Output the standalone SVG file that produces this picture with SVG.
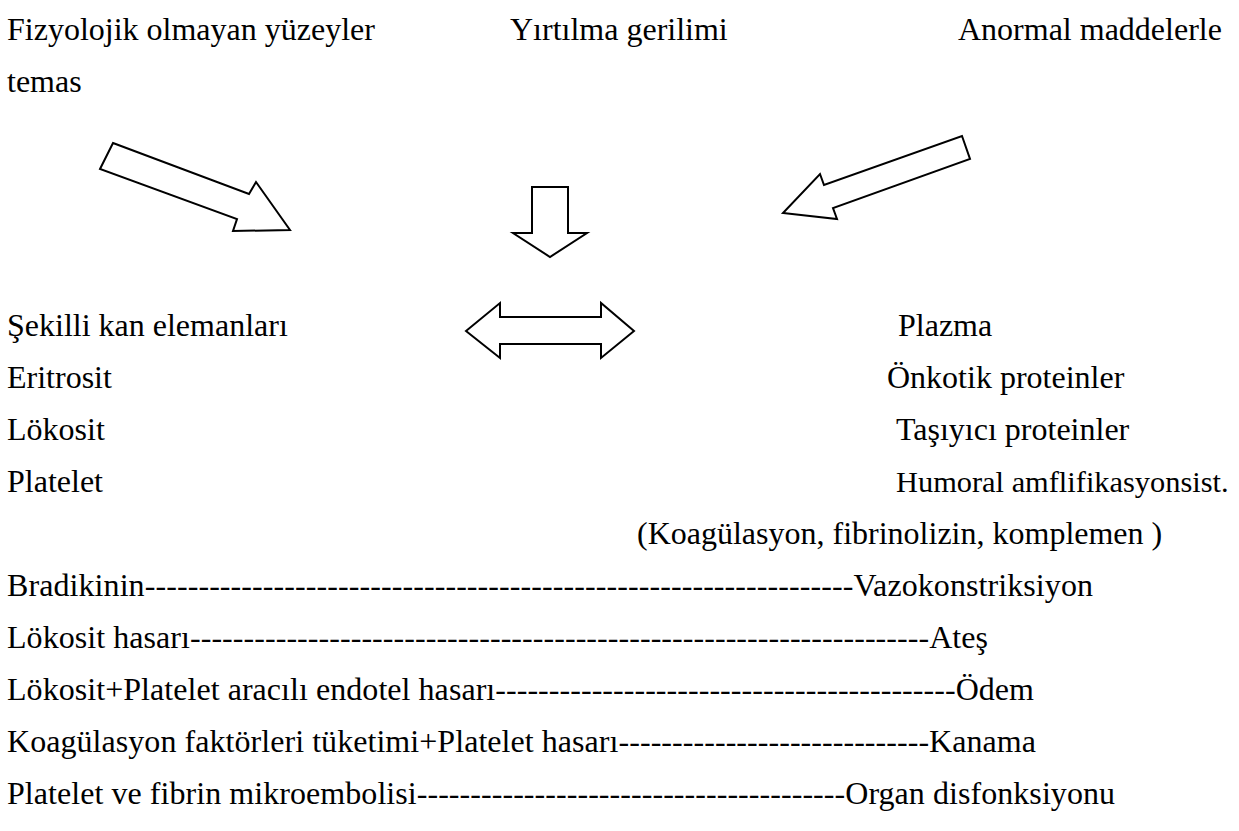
<svg xmlns="http://www.w3.org/2000/svg" width="1239" height="831" viewBox="0 0 1239 831">
<style>
.t{font-family:'Liberation Serif','DejaVu Serif',serif;font-size:32px;fill:#000}
.ar{fill:#fff;stroke:#000;stroke-width:2;stroke-linejoin:miter}
</style>
<rect width="1239" height="831" fill="#fff"/>
<g id="sources" class="t">
<text x="7" y="40">Fizyolojik olmayan yüzeyler</text>
<text x="510" y="40">Yırtılma gerilimi</text>
<text x="958" y="40">Anormal maddelerle</text>
<text x="7" y="92">temas</text>
</g>
<g id="connectors">
<polygon class="ar" points="113,143 249,194 256,182 290,230 233,231 237,219 100,169"/>
<polygon class="ar" points="532,187 568,187 568,233 587,233 550,257 513,233 532,233"/>
<polygon class="ar" points="962,136 970,159 833,208 837,219 783,213 820,174 824,185"/>
<polygon class="ar" points="466,331 500,303 500,317 601,317 601,303 634,331 601,358 601,344 500,344 500,358"/>
</g>
<g id="sekilli" class="t">
<text x="7" y="336">Şekilli kan elemanları</text>
<text x="7" y="388">Eritrosit</text>
<text x="7" y="440">Lökosit</text>
<text x="7" y="492">Platelet</text>
</g>
<g id="plazma" class="t">
<text x="898" y="336">Plazma</text>
<text x="887" y="388">Önkotik proteinler</text>
<text x="896" y="440">Taşıyıcı proteinler</text>
<text x="896" y="492" style="font-size:30.4px">Humoral amflifikasyonsist.</text>
<text x="637" y="544">(Koagülasyon, fibrinolizin, komplemen )</text>
</g>
<g id="effects" class="t">
<text x="7" y="596" textLength="1086" lengthAdjust="spacing">Bradikinin------------------------------------------------------------------Vazokonstriksiyon</text>
<text x="7" y="648" textLength="981" lengthAdjust="spacing">Lökosit hasarı---------------------------------------------------------------------Ateş</text>
<text x="7" y="700" textLength="1027" lengthAdjust="spacing">Lökosit+Platelet aracılı endotel hasarı-------------------------------------------Ödem</text>
<text x="7" y="752" textLength="1029" lengthAdjust="spacing">Koagülasyon faktörleri tüketimi+Platelet hasarı-----------------------------Kanama</text>
<text x="7" y="804" textLength="1108" lengthAdjust="spacing">Platelet ve fibrin mikroembolisi----------------------------------------Organ disfonksiyonu</text>
</g>
</svg>
